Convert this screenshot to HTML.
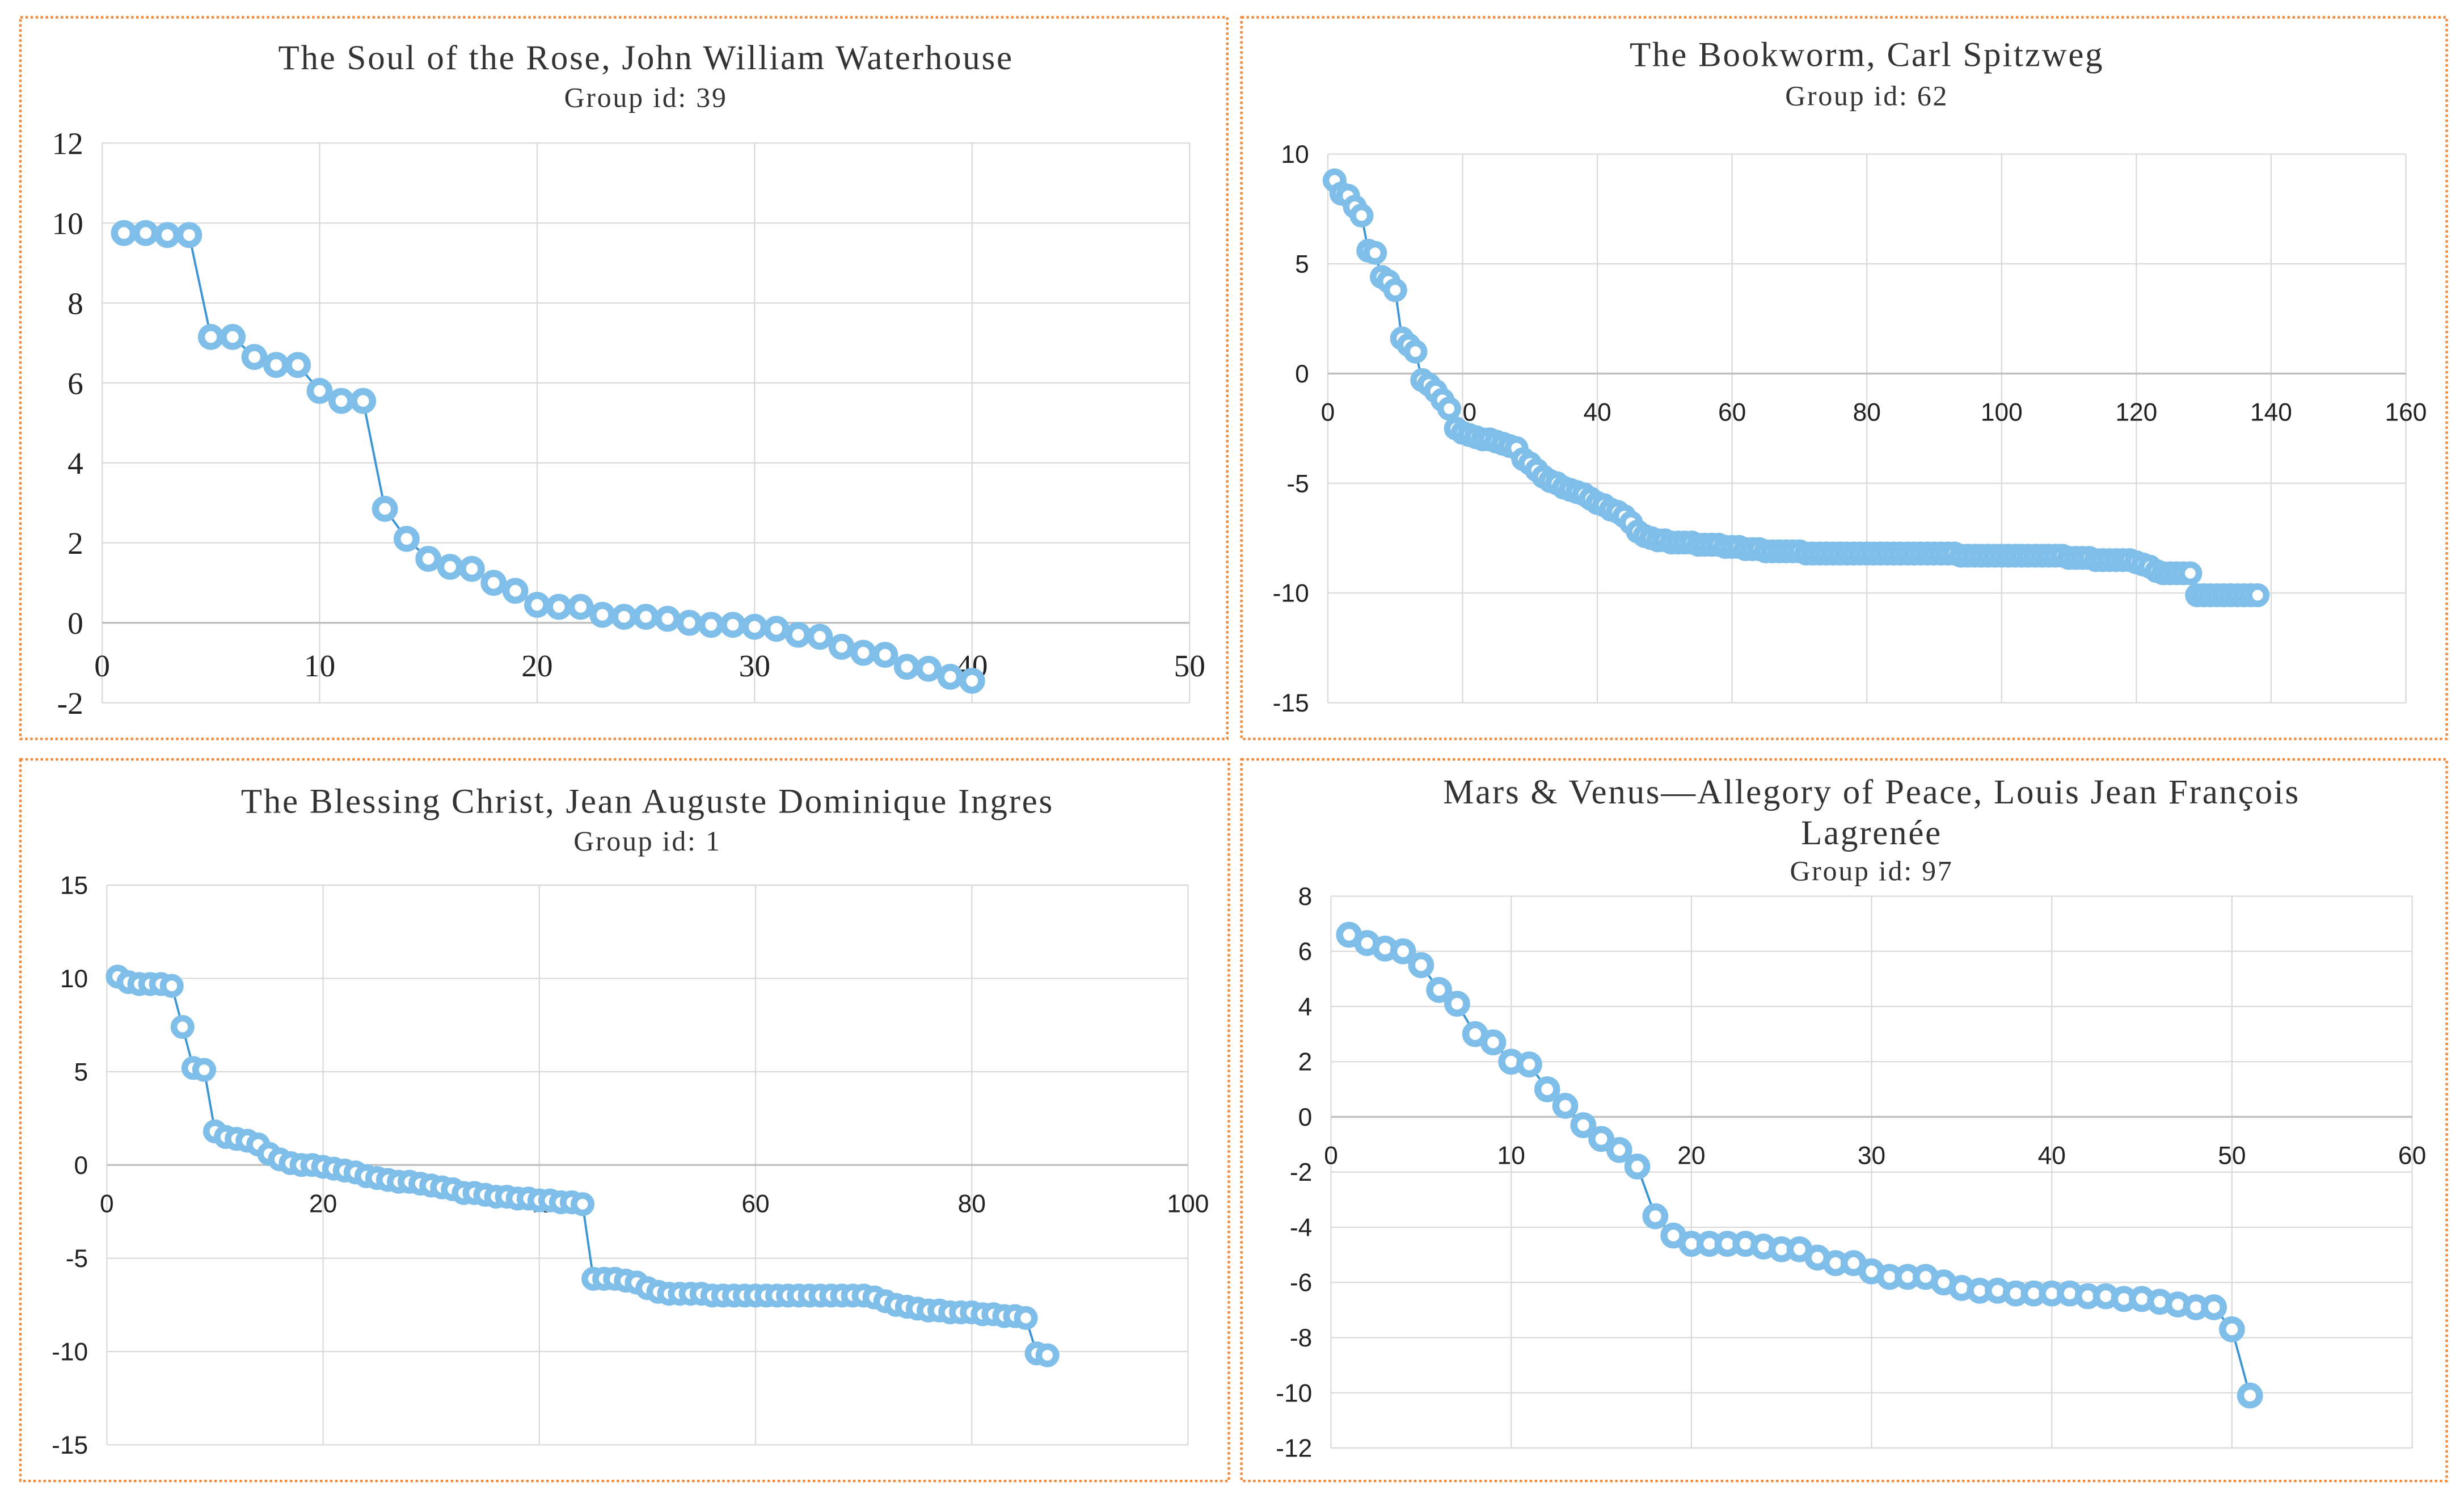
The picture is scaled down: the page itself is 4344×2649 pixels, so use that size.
<!DOCTYPE html>
<html><head><meta charset="utf-8">
<style>
html,body{margin:0;padding:0;background:#fff;}
svg{display:block;}
</style></head>
<body>
<svg id="chart" width="4344" height="2649" viewBox="0 0 1568 956" preserveAspectRatio="none" xmlns="http://www.w3.org/2000/svg"></svg>
<script>
const soulValues=[9.75,9.75,9.7,9.7,7.15,7.15,6.65,6.45,6.45,5.8,5.55,5.55,2.85,2.1,1.6,1.4,1.35,1.0,0.8,0.45,0.4,0.4,0.2,0.15,0.15,0.1,0.0,-0.05,-0.05,-0.1,-0.15,-0.3,-0.35,-0.6,-0.75,-0.8,-1.1,-1.15,-1.35,-1.45];
const soulXTicks=[0,10,20,30,40,50];
const soulYTicks=[-2,0,2,4,6,8,10,12];

const bookValues=[8.8,8.2,8.1,7.6,7.2,5.6,5.5,4.4,4.2,3.8,
1.6,1.3,1.0,-0.3,-0.5,-0.8,-1.2,-1.6,-2.5,-2.7,
-2.8,-2.9,-3.0,-3.0,-3.1,-3.2,-3.3,-3.4,-3.9,-4.1,
-4.4,-4.7,-4.9,-5.0,-5.2,-5.3,-5.4,-5.5,-5.7,-5.9,
-6.0,-6.2,-6.3,-6.5,-6.8,-7.2,-7.4,-7.5,-7.6,-7.6,
-7.7,-7.7,-7.7,-7.7,-7.8,-7.8,-7.8,-7.8,-7.9,-7.9,
-7.9,-8.0,-8.0,-8.0,-8.1,-8.1,-8.1,-8.1,-8.1,-8.1,
-8.2,-8.2,-8.2,-8.2,-8.2,-8.2,-8.2,-8.2,-8.2,-8.2,
-8.2,-8.2,-8.2,-8.2,-8.2,-8.2,-8.2,-8.2,-8.2,-8.2,
-8.2,-8.2,-8.2,-8.3,-8.3,-8.3,-8.3,-8.3,-8.3,-8.3,
-8.3,-8.3,-8.3,-8.3,-8.3,-8.3,-8.3,-8.3,-8.3,-8.4,
-8.4,-8.4,-8.4,-8.5,-8.5,-8.5,-8.5,-8.5,-8.5,-8.6,
-8.7,-8.8,-9.0,-9.1,-9.1,-9.1,-9.1,-9.1,
-10.1,-10.1,-10.1,-10.1,-10.1,-10.1,-10.1,-10.1,-10.1,-10.1];
const bookXTicks=[0,20,40,60,80,100,120,140,160];
const bookYTicks=[-15,-10,-5,0,5,10];

const christValues=[10.1,9.8,9.7,9.7,9.7,9.6,7.4,5.2,5.1,1.8,
1.5,1.4,1.3,1.1,0.6,0.3,0.1,0.0,0.0,-0.1,
-0.2,-0.3,-0.4,-0.6,-0.7,-0.8,-0.9,-0.9,-1.0,-1.1,
-1.2,-1.3,-1.5,-1.5,-1.6,-1.7,-1.7,-1.8,-1.8,-1.9,
-1.9,-2.0,-2.0,-2.1,
-6.1,-6.1,-6.1,-6.2,-6.3,-6.6,
-6.8,-6.9,-6.9,-6.9,-6.9,-7.0,-7.0,-7.0,-7.0,-7.0,
-7.0,-7.0,-7.0,-7.0,-7.0,-7.0,-7.0,-7.0,-7.0,-7.0,
-7.1,-7.3,-7.5,-7.6,-7.7,-7.8,-7.8,-7.9,-7.9,-7.9,
-8.0,-8.0,-8.1,-8.1,-8.2,-10.1,-10.2];
const christXTicks=[0,20,40,60,80,100];
const christYTicks=[-15,-10,-5,0,5,10,15];

const marsValues=[6.6,6.3,6.1,6.0,5.5,4.6,4.1,3.0,2.7,2.0,1.9,1.0,0.4,-0.3,-0.8,-1.2,-1.8,-3.6,-4.3,-4.6,-4.6,-4.6,-4.6,-4.7,-4.8,-4.8,-5.1,-5.3,-5.3,-5.6,-5.8,-5.8,-5.8,-6.0,-6.2,-6.3,-6.3,-6.4,-6.4,-6.4,-6.4,-6.5,-6.5,-6.6,-6.6,-6.7,-6.8,-6.9,-6.9,-7.7,-10.1];
const marsXTicks=[0,10,20,30,40,50,60];
const marsYTicks=[-12,-10,-8,-6,-4,-2,0,2,4,6,8];

const NS='http://www.w3.org/2000/svg';
const svg=document.getElementById('chart');
function mk(tag,attrs,parent){const e=document.createElementNS(NS,tag);for(const k in attrs)e.setAttribute(k,attrs[k]);(parent||svg).appendChild(e);return e;}

function panel(cfg){
  const g=mk('g',{});
  
  
  const b=mk('rect',{x:cfg.box[0],y:cfg.box[1],width:cfg.box[2],height:cfg.box[3],fill:'none',stroke:'#f08a3c','stroke-width':1.6,'stroke-dasharray':'1.6 1.6'},g);
  
  
  const cx=(cfg.px0+cfg.px1)/2;
  cfg.titles.forEach((t,i)=>{
    const te=mk('text',{x:cx,y:t[1],'text-anchor':'middle','font-family':'"Liberation Serif",serif','font-size':t[2],'letter-spacing':t[3],fill:'#333'},g);
    te.textContent=t[0];
    
    
  });
  const xs=v=>cfg.px0+(v-cfg.xmin)/(cfg.xmax-cfg.xmin)*(cfg.px1-cfg.px0);
  const ys=v=>cfg.py1-(v-cfg.ymin)/(cfg.ymax-cfg.ymin)*(cfg.py1-cfg.py0);
  const tf=cfg.serif?'"Liberation Serif",serif':'"Liberation Sans",sans-serif';
  cfg.xticks.forEach(t=>{
    const l=mk('line',{x1:xs(t),x2:xs(t),y1:cfg.py0,y2:cfg.py1,stroke:'#d9d9d9','stroke-width':0.8},g);
    
    
    const te=mk('text',{x:xs(t),y:ys(0)+cfg.xlabOff,'text-anchor':'middle','font-family':tf,'font-size':cfg.tickSize,fill:'#222'},g);
    te.textContent=t;
    
    
  });
  cfg.yticks.forEach(t=>{
    const l=mk('line',{x1:cfg.px0,x2:cfg.px1,y1:ys(t),y2:ys(t),stroke:t===0?'#bfbfbf':'#d9d9d9','stroke-width':t===0?1.2:0.8},g);
    
    
    const te=mk('text',{x:cfg.px0-cfg.ylabGap,y:ys(t)+cfg.tickSize*0.35,'text-anchor':'end','font-family':tf,'font-size':cfg.tickSize,fill:'#222'},g);
    te.textContent=t;
    
    
  });
  const pts=cfg.values.map((v,i)=>xs(i+1).toFixed(2)+','+ys(v).toFixed(2)).join(' ');
  const pl=mk('polyline',{points:pts,fill:'none',stroke:'#3a96d4','stroke-width':1.4},g);
  
  
  cfg.values.forEach((v,i)=>{
    const c=mk('circle',{cx:xs(i+1),cy:ys(v),r:cfg.r,fill:'#fff',stroke:'#7fbee9','stroke-width':cfg.sw},g);
    
    
  });
}

panel({name:'panel-soul-of-the-rose',box:[13,11,768,459],px0:65,px1:757,py0:91,py1:447,xmin:0,xmax:50,ymin:-2,ymax:12,
  titles:[['The Soul of the Rose, John William Waterhouse',44,22,1],['Group id: 39',68,18,1]],
  xticks:soulXTicks,yticks:soulYTicks,values:soulValues,serif:true,tickSize:20,xlabOff:34,ylabGap:12,r:6,sw:4.5});
panel({name:'panel-bookworm',box:[790,11,767,459],px0:845,px1:1531,py0:98,py1:447,xmin:0,xmax:160,ymin:-15,ymax:10,
  titles:[['The Bookworm, Carl Spitzweg',42,22,1],['Group id: 62',67,18,1]],
  xticks:bookXTicks,yticks:bookYTicks,values:bookValues,serif:false,tickSize:16,xlabOff:30,ylabGap:12,r:5.5,sw:4.2});
panel({name:'panel-blessing-christ',box:[13,483,769,459],px0:68,px1:756,py0:563,py1:919,xmin:0,xmax:100,ymin:-15,ymax:15,
  titles:[['The Blessing Christ, Jean Auguste Dominique Ingres',517,22,1],['Group id: 1',541,18,1]],
  xticks:christXTicks,yticks:christYTicks,values:christValues,serif:false,tickSize:16,xlabOff:30,ylabGap:12,r:5.5,sw:4.2});
panel({name:'panel-mars-venus',box:[790,483,767,459],px0:847,px1:1535,py0:570,py1:921,xmin:0,xmax:60,ymin:-12,ymax:8,
  titles:[['Mars & Venus\u2014Allegory of Peace, Louis Jean François',511,22,1],['Lagrenée',537,22,1],['Group id: 97',560,18,1]],
  xticks:marsXTicks,yticks:marsYTicks,values:marsValues,serif:false,tickSize:16,xlabOff:30,ylabGap:12,r:6,sw:4.5});
</script>
</body></html>
